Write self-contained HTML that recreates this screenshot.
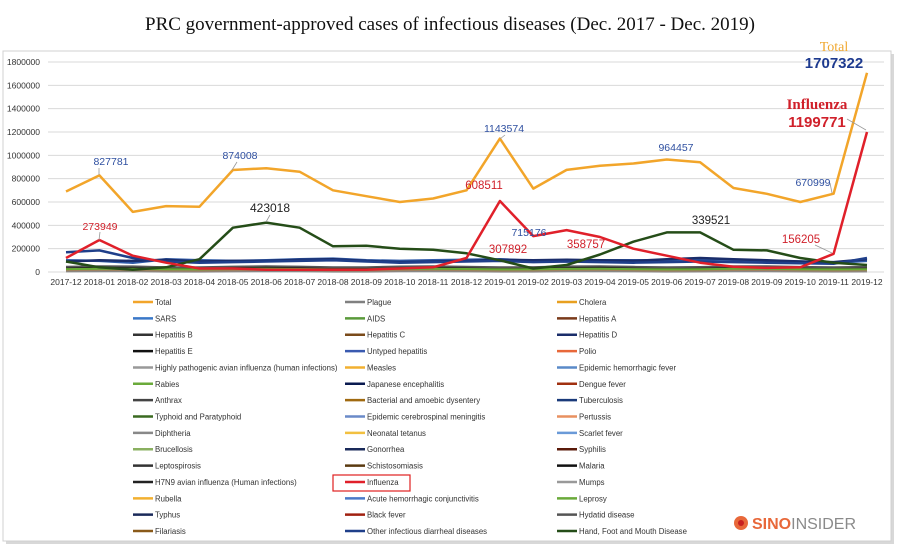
<!DOCTYPE html>
<html><head><meta charset="utf-8"><style>
body{margin:0;background:#fff;width:900px;height:551px;overflow:hidden}
svg{display:block}
</style></head><body>
<svg id="s" width="900" height="551" xmlns="http://www.w3.org/2000/svg" font-family="Liberation Sans, sans-serif">
<rect x="0" y="0" width="900" height="551" fill="#fff"/>
<rect x="6" y="54" width="888" height="490" fill="#d8d8d8"/>
<rect x="3" y="51" width="888" height="490" fill="#fff" stroke="#d0d0d0"/>
<text x="450" y="30" text-anchor="middle" font-family="Liberation Serif, serif" font-size="19" fill="#111">PRC government-approved cases of infectious diseases (Dec. 2017 - Dec. 2019)</text>
<g id="grid"></g><g id="series"></g><g id="legend"></g>
<g font-size="10.5" text-anchor="middle">
<text x="111" y="165" fill="#2e4fa0">827781</text>
<text x="100" y="230" fill="#d0202a">273949</text>
<text x="240" y="159" fill="#2e4fa0">874008</text>
<text x="270" y="212" font-size="12" fill="#222">423018</text>
<text x="504" y="132" fill="#2e4fa0">1143574</text>
<text x="484" y="189" font-size="11.5" fill="#d0202a">608511</text>
<text x="529" y="236" fill="#2e4fa0">715176</text>
<text x="508" y="253" font-size="11.5" fill="#d0202a">307892</text>
<text x="586" y="248" font-size="11.5" fill="#d0202a">358757</text>
<text x="676" y="151" fill="#2e4fa0">964457</text>
<text x="711" y="224" font-size="11.5" fill="#222">339521</text>
<text x="813" y="186" fill="#2e4fa0">670999</text>
<text x="801" y="243" font-size="11.5" fill="#d0202a">156205</text>
</g>
<g stroke="#999" stroke-width="0.8">
<line x1="99" y1="168" x2="99" y2="175"/><line x1="100" y1="232" x2="99" y2="240"/><line x1="237" y1="162" x2="232" y2="170"/><line x1="270" y1="215" x2="266" y2="222"/><line x1="505" y1="135" x2="500" y2="139"/><line x1="830" y1="183" x2="832" y2="193"/><line x1="815" y1="245" x2="832" y2="253"/><line x1="847" y1="119" x2="866" y2="130"/>
</g>
<text x="834" y="51" text-anchor="middle" font-family="Liberation Serif, serif" font-size="14" fill="#f0a830">Total</text>
<text x="834" y="68" text-anchor="middle" font-size="15" font-weight="bold" fill="#1d3a8f">1707322</text>
<text x="817" y="109" text-anchor="middle" font-family="Liberation Serif, serif" font-size="15" font-weight="bold" fill="#d0202a">Influenza</text>
<text x="817" y="127" text-anchor="middle" font-size="15" font-weight="bold" fill="#d0202a">1199771</text>
<rect x="333" y="475" width="77" height="16" fill="none" stroke="#e02020" stroke-width="1.2"/>
<circle cx="741" cy="523" r="7" fill="#e8683a"/><circle cx="741" cy="523" r="3" fill="#c82020"/>
<text x="752" y="529" font-size="16" font-weight="bold" fill="#e8683a">SINO<tspan font-weight="normal" fill="#8a8a8a">INSIDER</tspan></text>
</svg>
<script>
var NS="http://www.w3.org/2000/svg";
function el(p,t,a,txt){var e=document.createElementNS(NS,t);for(var k in a)e.setAttribute(k,a[k]);if(txt!=null)e.textContent=txt;p.appendChild(e);return e;}
function X(i){return 66+33.375*i}function Y(v){return 272-v*210/1800000}
var g=document.getElementById('grid');
for(var k=0;k<=9;k++){var v=k*200000,y=Y(v);el(g,'line',{x1:48,x2:884,y1:y,y2:y,stroke:'#d9d9d9','stroke-width':1});el(g,'text',{x:40,y:y+3,'font-size':8.5,'text-anchor':'end',fill:'#333'},String(v));}
var months=[];for(var i=0;i<25;i++){var m=(11+i)%12+1,yr=2017+Math.floor((11+i)/12);months.push(yr+'-'+(m<10?'0':'')+m);}
months.forEach(function(m,i){el(g,'text',{x:X(i),y:285,'font-size':8.5,'text-anchor':'middle',fill:'#333'},m)});
var s=document.getElementById('series');
function line(d,c,w){var p=d.map(function(v,i){return X(i).toFixed(1)+','+Y(v).toFixed(1)}).join(' ');el(s,'polyline',{points:p,fill:'none',stroke:c,'stroke-width':w||2.5,'stroke-linejoin':'round'});}
function flat(b,a){var r=[];for(var i=0;i<25;i++)r.push(b+a*Math.sin(i*1.3));return r;}
[['#888',5000,2000],['#b07a3a',20000,4000],['#7a4a1a',35000,5000],['#555',45000,5000],['#222',30000,6000],['#a08060',15000,3000],['#6a3',25000,3000]].forEach(function(q){line(flat(q[1],q[2]),q[0],2)});
line([100000,95000,80000,110000,100000,95000,100000,110000,115000,100000,95000,100000,105000,110000,95000,100000,100000,100000,100000,110000,105000,95000,90000,80000,95000],'#2e5aa8',2.5);
line([90000,100000,95000,105000,90000,95000,95000,105000,110000,95000,85000,90000,95000,105000,100000,105000,100000,95000,110000,120000,110000,100000,90000,85000,110000],'#1a2d6a',2.5);
line([170000,185000,120000,90000,80000,85000,90000,95000,100000,90000,80000,85000,90000,95000,85000,90000,85000,80000,85000,90000,85000,80000,75000,70000,120000],'#1f3f8a',2.5);
line([90000,40000,20000,40000,110000,380000,423018,380000,220000,225000,200000,190000,160000,100000,30000,60000,150000,260000,339521,339521,190000,185000,120000,80000,60000],'#254d18',2.5);
line([120000,273949,140000,80000,30000,30000,20000,20000,20000,20000,30000,40000,120000,608511,307892,358757,300000,200000,140000,80000,45000,35000,40000,156205,1199771],'#e0202a',2.5);
line([690000,827781,515000,565000,560000,874008,890000,860000,700000,650000,600000,630000,700000,1143574,715176,875000,910000,930000,964457,940000,720000,670000,600000,670999,1707322],'#f2a52a',2.5);
var L=[['Total','#f2a52a'],['Plague','#808080'],['Cholera','#e8a020'],['SARS','#3a78c8'],['AIDS','#5a9a3a'],['Hepatitis A','#7a3a1a'],['Hepatitis B','#333'],['Hepatitis C','#7a4a1a'],['Hepatitis D','#1a2d6a'],['Hepatitis E','#111'],['Untyped hepatitis','#3a5ab0'],['Polio','#e8683a'],['Highly pathogenic avian influenza (human infections)','#999'],['Measles','#f2b030'],['Epidemic hemorrhagic fever','#5a8ac8'],['Rabies','#6aaa3a'],['Japanese encephalitis','#0a1a50'],['Dengue fever','#a03010'],['Anthrax','#444'],['Bacterial and amoebic dysentery','#a06a10'],['Tuberculosis','#1a3a7a'],['Typhoid and Paratyphoid','#3a6a20'],['Epidemic cerebrospinal meningitis','#6a8ac8'],['Pertussis','#e89060'],['Diphtheria','#888'],['Neonatal tetanus','#f2c040'],['Scarlet fever','#6a9ad8'],['Brucellosis','#8ab060'],['Gonorrhea','#1a2a5a'],['Syphilis','#5a1a0a'],['Leptospirosis','#333'],['Schistosomiasis','#5a3a10'],['Malaria','#111'],['H7N9 avian influenza (Human infections)','#222'],['Influenza','#e0202a'],['Mumps','#999'],['Rubella','#f2b030'],['Acute hemorrhagic conjunctivitis','#4a7ac8'],['Leprosy','#6aaa3a'],['Typhus','#1a2a5a'],['Black fever','#a02010'],['Hydatid disease','#555'],['Filariasis','#8a5a1a'],['Other infectious diarrheal diseases','#1f3f8a'],['Hand, Foot and Mouth Disease','#254d18']];
var lg=document.getElementById('legend');
L.forEach(function(q,i){var c=i%3,r=Math.floor(i/3),x=[133,345,557][c],y=302+r*16.36;el(lg,'line',{x1:x,x2:x+20,y1:y,y2:y,stroke:q[1],'stroke-width':2.5});el(lg,'text',{x:x+22,y:y+3,'font-size':7.8,fill:'#333'},q[0]);});
</script>
</body></html>
